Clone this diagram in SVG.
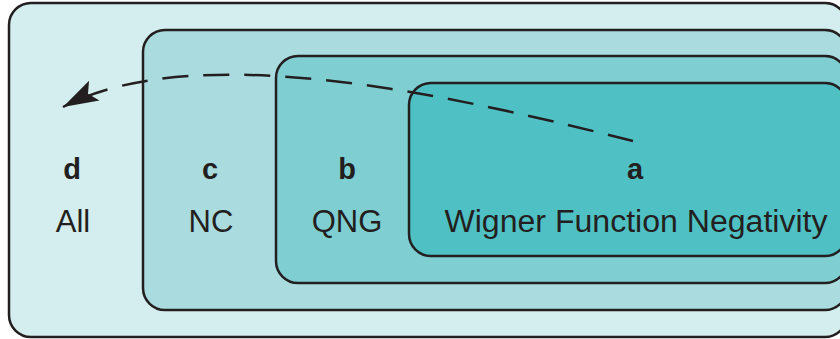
<svg xmlns="http://www.w3.org/2000/svg" width="840" height="339" viewBox="0 0 840 339">
<style>
.box{stroke:#231f20;stroke-width:2.5}
.lbl{font-family:"Liberation Sans",Arial,sans-serif;font-weight:bold;font-size:29px;fill:#231f20;text-anchor:middle}
.name{font-family:"Liberation Sans",Arial,sans-serif;font-size:31px;fill:#231f20;text-anchor:middle}
.conn{fill:none;stroke:#231f20;stroke-width:2.5;stroke-dasharray:26 15}
</style>
<defs>
<marker id="arr" markerUnits="userSpaceOnUse" markerWidth="40" markerHeight="30" viewBox="-32 -12 34 24" refX="0" refY="0" orient="auto">
<path d="M0,0 L-30,-9.5 L-24,0 L-30,9.5 Z" fill="#231f20"/>
</marker>
</defs>
<g id="d">
<rect class="box" x="9" y="3" width="838" height="334" rx="22" fill="#d4edee"/>
<text class="lbl" x="72" y="179">d</text>
<text class="name" x="73" y="232">All</text>
</g>
<g id="c">
<rect class="box" x="143" y="30" width="704" height="280" rx="22" fill="#aadcdf"/>
<text class="lbl" x="210" y="179">c</text>
<text class="name" x="211" y="232">NC</text>
</g>
<g id="b">
<rect class="box" x="276" y="56" width="571" height="227" rx="22" fill="#7fcfd2"/>
<text class="lbl" x="347" y="179">b</text>
<text class="name" x="347" y="232">QNG</text>
</g>
<g id="a">
<rect class="box" x="409" y="83" width="438" height="173" rx="22" fill="#4fc1c5"/>
<text class="lbl" x="635" y="179">a</text>
<text class="name" x="636" y="232" textLength="383" lengthAdjust="spacingAndGlyphs">Wigner Function Negativity</text>
</g>
<g id="connectors">
<path class="conn" d="M633,141 C470,100 200,35 63,107" marker-end="url(#arr)"/>
</g>
</svg>
